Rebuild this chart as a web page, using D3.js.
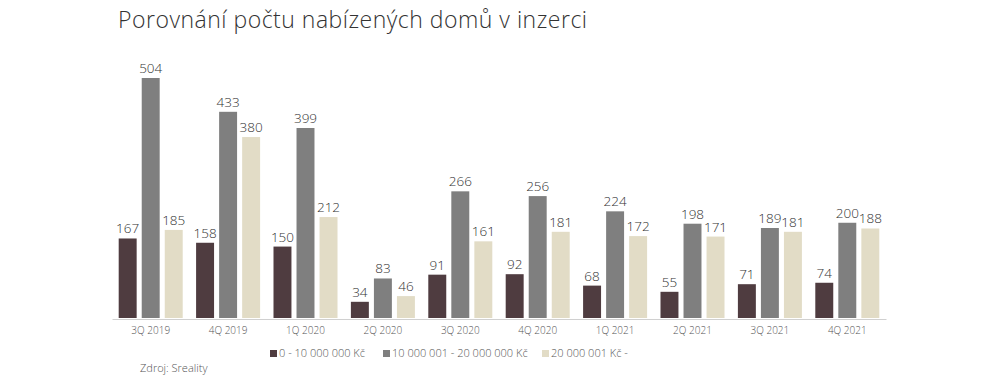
<!DOCTYPE html>
<html>
<head>
  <meta charset="UTF-8">
  <style>
    body { margin: 0; background: #fff; }
    svg text { font-family: "Open Sans", Lato, sans-serif; font-weight: 300; }
  </style>
</head>
<body>
<svg></svg>
<script src="https://d3js.org/d3.v7.min.js"></script>
<script>
// data
const quarters = ["3Q 2019", "4Q 2019", "1Q 2020", "2Q 2020", "3Q 2020", "4Q 2020", "1Q 2021", "2Q 2021", "3Q 2021", "4Q 2021"];
const seriesNames = ["0 - 10 000 000 Kč", "10 000 001 - 20 000 000 Kč", "20 000 001 Kč -"];
const low = [167, 158, 150, 34, 91, 92, 68, 55, 71, 74];
const mid = [504, 433, 399, 83, 266, 256, 224, 198, 189, 200];
const high = [185, 380, 212, 46, 161, 181, 172, 171, 181, 188];
const colors = ["#4f3c40", "#7f7f7f", "#e2dcc6"];

let width = 1000, height = 383;
let svg = d3.select("svg").attr("width", width).attr("height", height);

let series = [low, mid, high];
let rows = quarters.map((q, i) => ({ q: q, vals: series.map(s => s[i]) }));

let x0 = d3.scaleBand().domain(quarters).range([112, 886]).paddingInner(0.173).paddingOuter(0.0865);
let x1 = d3.scaleBand().domain([0, 1, 2]).range([0, x0.bandwidth()]).paddingInner(0.22);
let y = d3.scaleLinear().domain([0, 504]).range([318, 78]);

// title
svg.append("text")
  .attr("x", 118).attr("y", 28)
  .attr("font-size", 23)
  .attr("letter-spacing", 0.5)
  .attr("fill", "#333")
  .text("Porovnání počtu nabízených domů v inzerci");

// bars
let groups = svg.append("g").selectAll("g")
  .data(rows)
  .enter().append("g")
  .attr("transform", d => `translate(${x0(d.q)},0)`);

groups.selectAll("rect")
  .data(d => d.vals.map((v, k) => ({ k: k, v: v })))
  .enter().append("rect")
  .attr("x", d => x1(d.k))
  .attr("y", d => y(d.v))
  .attr("width", x1.bandwidth())
  .attr("height", d => y(0) - y(d.v))
  .attr("fill", d => colors[d.k]);

groups.selectAll("text")
  .data(d => d.vals.map((v, k) => ({ k: k, v: v })))
  .enter().append("text")
  .attr("x", d => x1(d.k) + x1.bandwidth() / 2)
  .attr("y", d => y(d.v) - 5)
  .attr("text-anchor", "middle")
  .attr("font-size", 13.5)
  .attr("fill", "#333")
  .text(d => d.v);

// x axis
let xAxis = svg.append("g")
  .attr("transform", "translate(0,319)")
  .call(d3.axisBottom(x0).tickSize(0).tickPadding(8));
xAxis.select(".domain").attr("stroke", "#d0d0d0");
xAxis.selectAll("text")
  .attr("font-size", 10)
  .attr("fill", "#555")
  .style("font-family", "'Open Sans', Lato, sans-serif");

// legend
let legendX = [270, 383, 542];
let legend = svg.append("g").selectAll("g")
  .data(seriesNames)
  .enter().append("g")
  .attr("transform", (d, i) => `translate(${legendX[i]},357)`);
legend.append("rect")
  .attr("x", 0).attr("y", -7)
  .attr("width", 7).attr("height", 7)
  .attr("fill", (d, i) => colors[i]);
legend.append("text")
  .attr("x", 9).attr("y", 0)
  .attr("font-size", 11)
  .attr("fill", "#555")
  .text(d => d);

// source
svg.append("text")
  .attr("x", 140).attr("y", 372)
  .attr("font-size", 11)
  .attr("fill", "#555")
  .text("Zdroj: Sreality");
</script>
</body>
</html>
